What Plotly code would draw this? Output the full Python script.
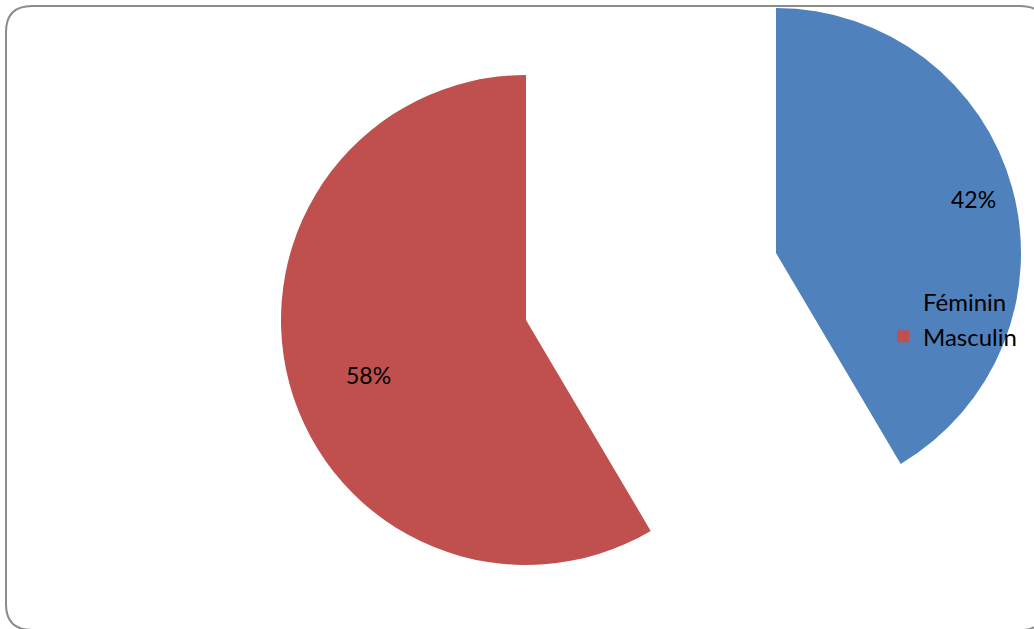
import math
import plotly.graph_objects as go

labels = ["Féminin", "Masculin"]
values = [41.5, 58.5]
pct_labels = ["42%", "58%"]
colors = ["#4F81BD", "#C0504D"]
transparent = "rgba(0,0,0,0)"

W, H = 1034, 629
FONT = "Lato, Liberation Sans, Arial"

# pie geometry (pixels): centre and radius of each drawn pie
R = 245
centres = [(776, 253), (526, 320)]   # Féminin (exploded), Masculin
label_r = [0.835, 0.68]              # label distance as fraction of radius
label_dang = [0.0, -4.0]             # small angular nudge of labels (deg)


def px_dom(cx):
    return [(cx - R) / W, (cx + R) / W]


def py_dom(cy):
    return [1 - (cy + R) / H, 1 - (cy - R) / H]


total = sum(values)

fig = go.Figure()

# Masculin slice (in place) - first so it owns the legend entries
fig.add_trace(go.Pie(
    labels=labels, values=values, sort=False, direction="clockwise", rotation=0,
    marker=dict(colors=[transparent, colors[1]], line=dict(width=0)),
    textinfo="none",
    domain=dict(x=px_dom(centres[1][0]), y=py_dom(centres[1][1])),
    hoverinfo="label+percent",
))

# Féminin slice (exploded)
fig.add_trace(go.Pie(
    labels=labels, values=values, sort=False, direction="clockwise", rotation=0,
    marker=dict(colors=[colors[0], transparent], line=dict(width=0)),
    textinfo="none",
    domain=dict(x=px_dom(centres[0][0]), y=py_dom(centres[0][1])),
    hoverinfo="label+percent",
))

# percentage labels placed near each slice's bisector
annotations = []
start = 0.0
for i, v in enumerate(values):
    frac = v / total
    mid = (start + frac / 2) * 2 * math.pi + math.radians(label_dang[i])
    start += frac
    cx, cy = centres[i]
    x = cx + math.sin(mid) * R * label_r[i]
    y = cy - math.cos(mid) * R * label_r[i]
    annotations.append(dict(
        x=x / W, y=1 - y / H, xref="paper", yref="paper",
        text=pct_labels[i], showarrow=False,
        font=dict(family=FONT, size=23, color="black"),
        xanchor="center", yanchor="middle",
    ))


def X(x):
    return x / W


def Y(y):
    return 1 - y / H


l, t, r, b, rad = 6, 6, 1046, 630, 26
path = (
    f"M {X(l)},{Y(t + rad)} L {X(l)},{Y(b - rad)} Q {X(l)},{Y(b)} {X(l + rad)},{Y(b)} "
    f"L {X(r - rad)},{Y(b)} Q {X(r)},{Y(b)} {X(r)},{Y(b - rad)} "
    f"L {X(r)},{Y(t + rad)} Q {X(r)},{Y(t)} {X(r - rad)},{Y(t)} "
    f"L {X(l + rad)},{Y(t)} Q {X(l)},{Y(t)} {X(l)},{Y(t + rad)} Z"
)

fig.update_layout(
    width=W, height=H,
    margin=dict(l=0, r=0, t=0, b=0),
    paper_bgcolor="white", plot_bgcolor="white",
    shapes=[dict(type="path", xref="paper", yref="paper", path=path,
                 line=dict(color="#8C8C8C", width=2), layer="below")],
    annotations=annotations,
    legend=dict(
        x=(923 - 40) / W, xanchor="left",
        y=1 - 280 / H, yanchor="top",
        bgcolor="rgba(0,0,0,0)",
        font=dict(family=FONT, size=24, color="black"),
        traceorder="normal",
    ),
    showlegend=True,
)

fig.write_html("out.html", config={"displayModeBar": False},
               post_script="document.body.style.margin='0';")
